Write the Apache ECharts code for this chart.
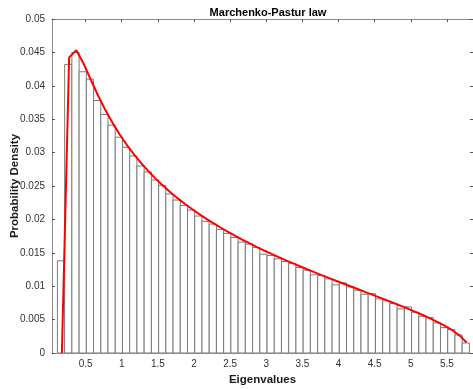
<!DOCTYPE html>
<html>
<head>
<meta charset="utf-8">
<script src="https://cdn.jsdelivr.net/npm/echarts@6/dist/echarts.min.js"></script>
<style>
html,body{margin:0;padding:0;background:#fff;}
#chart{width:473px;height:389px;}
</style>
</head>
<body>
<div id="chart"></div>
<script>
// Histogram bins (centers) and probabilities
const binCenters = [0.16,0.26,0.36,0.46,0.56,0.66,0.76,0.86,0.96,1.06,1.16,1.26,1.36,1.46,1.56,1.66,1.76,1.86,1.96,2.06,2.16,2.26,2.36,2.46,2.56,2.66,2.76,2.86,2.96,3.06,3.16,3.26,3.36,3.46,3.56,3.66,3.76,3.86,3.96,4.06,4.16,4.26,4.36,4.46,4.56,4.66,4.76,4.86,4.96,5.06,5.16,5.26,5.36,5.46,5.56,5.66,5.76];
const binWidth = 0.1;
const binValues = [0.0138,0.0432,0.0450,0.0421,0.0410,0.0378,0.0357,0.0341,0.0323,0.0308,0.0295,0.0280,0.0271,0.0259,0.0251,0.0238,0.0229,0.0221,0.0214,0.0205,0.0197,0.0193,0.0185,0.0179,0.0173,0.0166,0.0163,0.0158,0.0148,0.0146,0.0141,0.0137,0.0134,0.0128,0.0124,0.0117,0.0116,0.0111,0.0102,0.0105,0.0099,0.0094,0.0088,0.0089,0.0081,0.0078,0.0074,0.0066,0.0069,0.0061,0.0055,0.0053,0.0045,0.0038,0.0035,0.0027,0.0015];
// Theoretical curve
const curveX = [0.172,0.272,0.372,0.472,0.572,0.672,0.772,0.872,0.972,1.072,1.172,1.272,1.372,1.472,1.572,1.672,1.772,1.872,1.972,2.072,2.172,2.272,2.372,2.472,2.572,2.672,2.772,2.872,2.972,3.072,3.172,3.272,3.372,3.472,3.572,3.672,3.772,3.872,3.972,4.072,4.172,4.272,4.372,4.472,4.572,4.672,4.772,4.872,4.972,5.072,5.172,5.272,5.372,5.472,5.572,5.672,5.772];
const curveY = [0,0.04425,0.04533,0.04334,0.04090,0.03855,0.03640,0.03446,0.03271,0.03113,0.02970,0.02839,0.02718,0.02607,0.02504,0.02408,0.02318,0.02234,0.02155,0.02079,0.02008,0.01940,0.01875,0.01812,0.01753,0.01695,0.01640,0.01586,0.01534,0.01484,0.01435,0.01387,0.01341,0.01295,0.01250,0.01206,0.01163,0.01120,0.01078,0.01036,0.00995,0.00954,0.00912,0.00871,0.00829,0.00787,0.00745,0.00702,0.00658,0.00612,0.00565,0.00515,0.00463,0.00405,0.00341,0.00264,0.00158];
const xTicks = [0.5,1,1.5,2,2.5,3,3.5,4,4.5,5,5.5];
const yTicks = [0,0.005,0.01,0.015,0.02,0.025,0.03,0.035,0.04,0.045,0.05];
const yTickLabels = ['0','0.005','0.01','0.015','0.02','0.025','0.03','0.035','0.04','0.045','0.05'];

const FONT = '"Liberation Sans", Arial, Helvetica, sans-serif';
const chart = echarts.init(document.getElementById('chart'), null, {renderer:'canvas'});
const axisColor = '#8a8a8a';
const xMin = 0.035, xMax = 5.86;

const histData = binCenters.map((c,i)=>[c, binValues[i]]);
const lineData = curveX.map((x,i)=>[x, curveY[i]]);

chart.setOption({
  animation:false,
  backgroundColor:'#fff',
  title:{
    text:'Marchenko-Pastur law', left:263, top:2, textAlign:'center',
    textStyle:{fontFamily:FONT, fontSize:11, fontWeight:'bold', color:'#000'}
  },
  graphic:[{
    type:'text', x:15, y:186, rotation:Math.PI/2,
    style:{text:'Probability Density', align:'center', verticalAlign:'middle',
      font:'bold 11.5px "Liberation Sans", Arial, sans-serif', fill:'#1a1a1a'}
  }],
  grid:{left:52, right:0, top:19, bottom:36, containLabel:false, outerBoundsMode:'none'},
  xAxis:[{
    type:'value', min:xMin, max:xMax, position:'bottom',
    name:'Eigenvalues', nameLocation:'middle', nameGap:19,
    nameTextStyle:{fontFamily:FONT, fontSize:11.5, fontWeight:'bold', color:'#1a1a1a'},
    axisLine:{show:true, onZero:false, lineStyle:{color:axisColor, width:1}},
    axisTick:{show:true, inside:true, length:3, customValues:xTicks, lineStyle:{color:'#555'}},
    axisLabel:{customValues:xTicks, fontFamily:FONT, fontSize:10, color:'#333', margin:6,
      formatter:v=>String(v)},
    splitLine:{show:false}
  },{
    type:'value', min:xMin, max:xMax, position:'top',
    axisLine:{show:true, onZero:false, lineStyle:{color:axisColor, width:1}},
    axisTick:{show:true, inside:true, length:3, customValues:xTicks, lineStyle:{color:'#555'}},
    axisLabel:{show:false}, splitLine:{show:false}
  }],
  yAxis:[{
    type:'value', min:0, max:0.05, interval:0.005, position:'left',
    axisLine:{show:true, onZero:false, lineStyle:{color:axisColor, width:1}},
    axisTick:{show:true, inside:true, length:3, lineStyle:{color:'#555'}},
    axisLabel:{fontFamily:FONT, fontSize:10, color:'#333', margin:7,
      formatter:(v)=>{const i=yTicks.findIndex(t=>Math.abs(t-v)<1e-9);return i>=0?yTickLabels[i]:'';}},
    splitLine:{show:false}
  },{
    type:'value', min:0, max:0.05, interval:0.005, position:'right',
    axisLine:{show:true, onZero:false, lineStyle:{color:axisColor, width:1}},
    axisTick:{show:true, inside:true, length:3, lineStyle:{color:'#555'}},
    axisLabel:{show:false}, splitLine:{show:false}
  }],
  series:[{
    type:'custom',
    xAxisIndex:0, yAxisIndex:0,
    data:histData,
    clip:true,
    renderItem:(params, api)=>{
      const c = api.value(0), h = api.value(1);
      const p0 = api.coord([c - binWidth/2, h]);
      const p1 = api.coord([c + binWidth/2, 0]);
      return {
        type:'rect',
        shape:{x:p0[0], y:p0[1], width:p1[0]-p0[0], height:p1[1]-p0[1]},
        style:{fill:'#ffffff', stroke:'#7a7a7a', lineWidth:1}
      };
    },
    z:2
  },{
    type:'line',
    xAxisIndex:0, yAxisIndex:0,
    data:lineData,
    showSymbol:false, symbol:'none',
    lineStyle:{color:'#ff0000', width:2},
    z:5
  }]
});
</script>
</body>
</html>
